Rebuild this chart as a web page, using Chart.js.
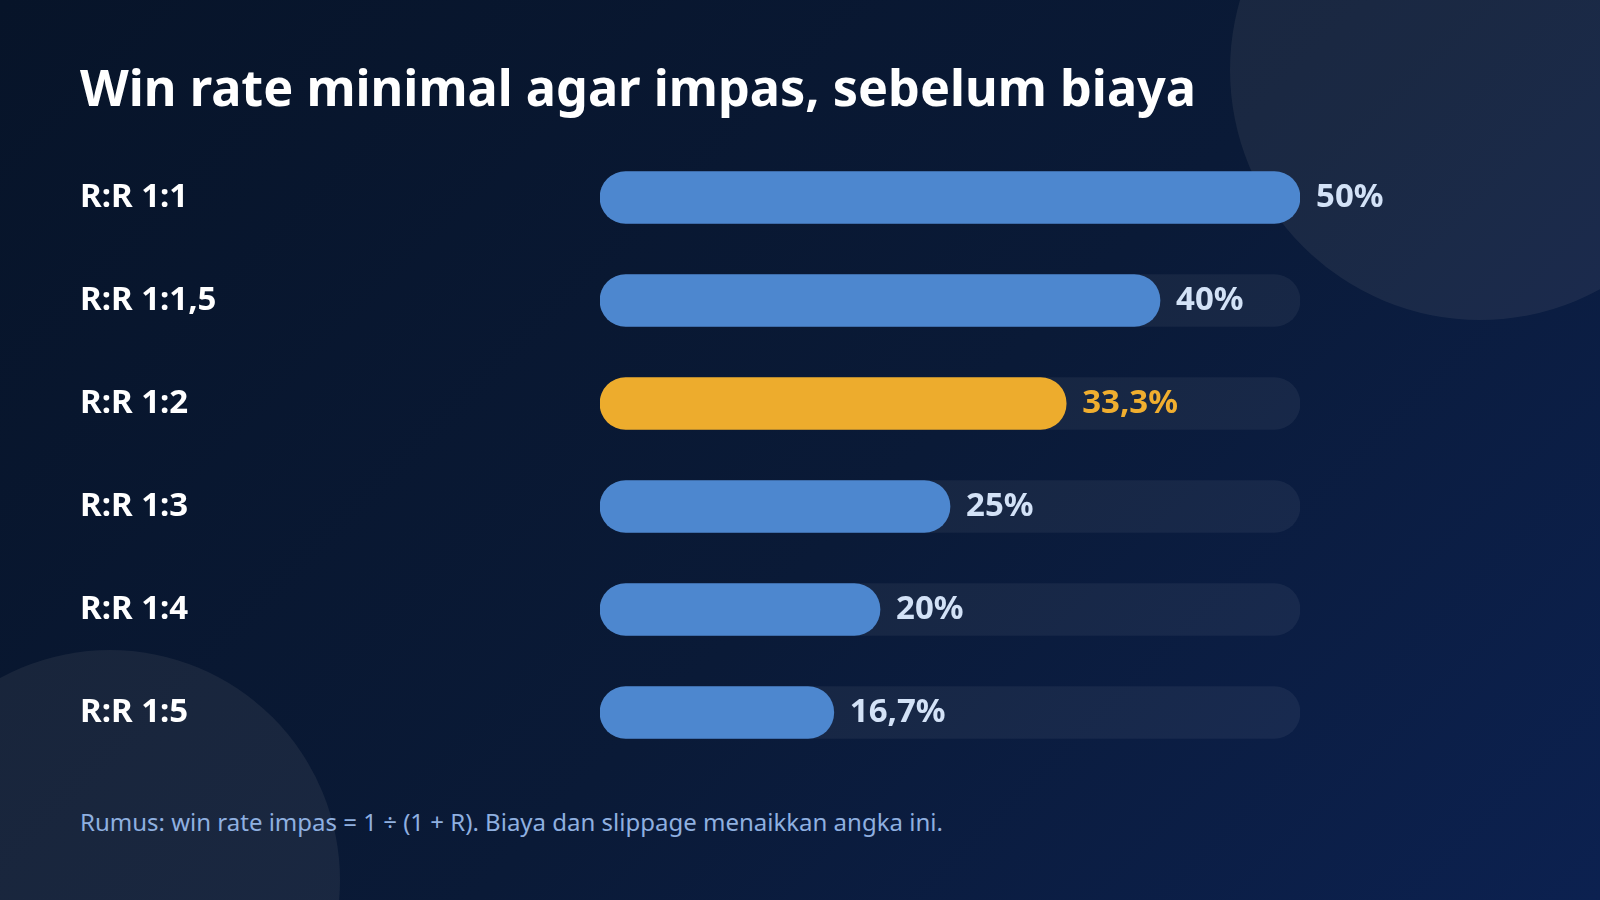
<!DOCTYPE html>
<html lang="id">
<head>
<meta charset="utf-8">
<title>Win rate minimal agar impas</title>
<script src="https://cdn.jsdelivr.net/npm/chart.js@4.4.1/dist/chart.umd.min.js"></script>
<style>
    html, body { margin: 0; padding: 0; }
    body {
        width: 1600px;
        height: 900px;
        overflow: hidden;
        position: relative;
        font-family: 'Noto Sans', 'DejaVu Sans', sans-serif;
        background: linear-gradient(135deg, #071429 0%, #0a1a37 55%, #0c2150 100%);
    }
    .blob {
        position: absolute;
        border-radius: 50%;
        background: rgba(235, 225, 215, 0.07);
    }
    .blob.top { left: 1230px; top: -180px; width: 500px; height: 500px; }
    .blob.bottom { left: -120px; top: 650px; width: 460px; height: 460px; }
    h1 {
        position: absolute;
        left: 80px;
        top: 62px;
        margin: 0;
        font-size: 50.4px;
        line-height: 1;
        font-weight: 700;
        color: #ffffff;
        white-space: nowrap;
    }
    #chartWrap {
        position: absolute;
        left: 0;
        top: 129px;
        width: 1600px;
        height: 652px;
    }
    .note {
        position: absolute;
        left: 80px;
        top: 810px;
        margin: 0;
        font-size: 24px;
        line-height: 1;
        color: #8fb0e0;
        white-space: nowrap;
    }
</style>
</head>
<body>
<div class="blob top"></div>
<div class="blob bottom"></div>
<h1>Win rate minimal agar impas, sebelum biaya</h1>
<div id="chartWrap"><canvas id="breakEvenChart" width="1600" height="652"></canvas></div>
<p class="note">Rumus: win rate impas = 1 ÷ (1 + R). Biaya dan slippage menaikkan angka ini.</p>

<script>
// Data
const categories = ['R:R 1:1', 'R:R 1:1,5', 'R:R 1:2', 'R:R 1:3', 'R:R 1:4', 'R:R 1:5'];
const breakEvenRates = [50, 40, 33.3, 25, 20, 16.7];
const valueLabels = ['50%', '40%', '33,3%', '25%', '20%', '16,7%'];
const highlighted = 'R:R 1:2';
const axisMax = 50;

const BLUE = '#4d87cf';
const AMBER = '#edac2d';
const BLUE_TEXT = '#d3e2f7';
const AMBER_TEXT = '#f0ae2f';

const barColors = categories.map(c => c === highlighted ? AMBER : BLUE);
const textColors = categories.map(c => c === highlighted ? AMBER_TEXT : BLUE_TEXT);
const trackValues = categories.map(() => axisMax);

// Draws the percentage right after each bar
const valueLabelPlugin = {
    id: 'valueLabels',
    afterDatasetsDraw(chart) {
        const ctx = chart.ctx;
        const meta = chart.getDatasetMeta(0);
        ctx.save();
        ctx.font = '700 33px "Noto Sans"';
        ctx.textAlign = 'left';
        ctx.textBaseline = 'middle';
        meta.data.forEach((bar, i) => {
            ctx.fillStyle = textColors[i];
            ctx.fillText(valueLabels[i], bar.x + 16, bar.y);
        });
        ctx.restore();
    }
};

document.addEventListener('DOMContentLoaded', function() {
    const ctx = document.getElementById('breakEvenChart');
    new Chart(ctx, {
        type: 'bar',
        data: {
            labels: categories,
            datasets: [
                {
                    label: 'Win rate impas',
                    data: breakEvenRates,
                    backgroundColor: barColors,
                    borderRadius: 26,
                    borderSkipped: false,
                    barThickness: 52,
                    grouped: false
                },
                {
                    label: 'Track',
                    data: trackValues,
                    backgroundColor: 'rgba(255,255,255,0.055)',
                    borderRadius: 26,
                    borderSkipped: false,
                    barThickness: 52,
                    grouped: false
                }
            ]
        },
        options: {
            indexAxis: 'y',
            responsive: false,
            animation: false,
            devicePixelRatio: 1,
            layout: { padding: { left: 80, right: 300, top: 0, bottom: 0 } },
            plugins: {
                legend: { display: false },
                tooltip: { enabled: false }
            },
            scales: {
                x: { min: 0, max: axisMax, display: false },
                y: {
                    grid: { display: false },
                    border: { display: false },
                    ticks: {
                        color: '#ffffff',
                        crossAlign: 'far',
                        padding: 0,
                        font: { family: 'Noto Sans', size: 33, weight: 'bold', lineHeight: '34px' }
                    },
                    afterFit: scale => { scale.width = 520; }
                }
            }
        },
        plugins: [valueLabelPlugin]
    });
});
</script>
</body>
</html>
